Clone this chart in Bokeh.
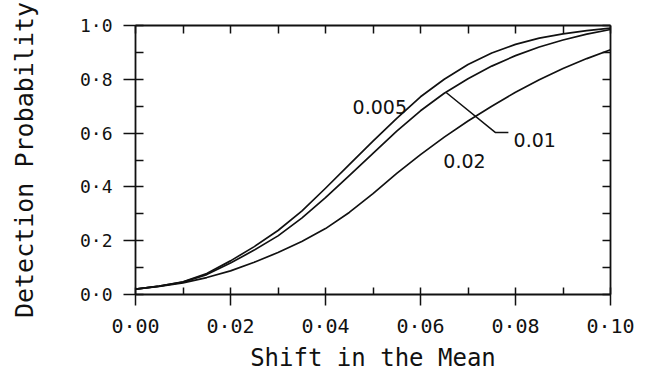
from bokeh.plotting import figure
from bokeh.models import LinearAxis, FixedTicker, Range1d, Label
from bokeh.embed import file_html
from bokeh.resources import INLINE

# ---- data ----
shift = [0.000, 0.005, 0.010, 0.015, 0.020, 0.025, 0.030, 0.035, 0.040, 0.045, 0.050,
         0.055, 0.060, 0.065, 0.070, 0.075, 0.080, 0.085, 0.090, 0.095, 0.100]
p_005 = [0.020, 0.031, 0.047, 0.078, 0.125, 0.178, 0.238, 0.310, 0.395, 0.483, 0.570,
         0.655, 0.735, 0.800, 0.855, 0.898, 0.930, 0.953, 0.969, 0.981, 0.990]
p_01 = [0.020, 0.031, 0.046, 0.074, 0.117, 0.165, 0.218, 0.284, 0.360, 0.442, 0.525,
        0.607, 0.683, 0.748, 0.802, 0.849, 0.888, 0.920, 0.946, 0.968, 0.985]
p_02 = [0.020, 0.030, 0.043, 0.063, 0.088, 0.120, 0.156, 0.197, 0.245, 0.305, 0.375,
        0.450, 0.520, 0.585, 0.645, 0.700, 0.752, 0.798, 0.840, 0.877, 0.910]
series_labels = ["0.005", "0.01", "0.02"]

x_ticks = [0.00, 0.02, 0.04, 0.06, 0.08, 0.10]
x_tick_labels = ["0·00", "0·02", "0·04", "0·06", "0·08", "0·10"]
x_minor_ticks = [0.01, 0.03, 0.05, 0.07, 0.09]
x_top_ticks = [0.00, 0.01, 0.02, 0.03, 0.04, 0.05, 0.06, 0.07, 0.08, 0.09, 0.10]
y_ticks = [0.0, 0.2, 0.4, 0.6, 0.8, 1.0]
y_tick_labels = ["0·0", "0·2", "0·4", "0·6", "0·8", "1·0"]
y_minor_ticks = [0.1, 0.3, 0.5, 0.7, 0.9]
y_right_ticks = [0.0, 0.1, 0.2, 0.3, 0.4, 0.5, 0.6, 0.7, 0.8, 0.9, 1.0]
x_title = "Shift in the Mean"
y_title = "Detection Probability"

# ---- layout / style (not data) ----
label_pos = {"0.005": (0.0457, 0.696), "0.01": (0.0796, 0.575), "0.02": (0.0648, 0.498)}
leader_x = [0.0654, 0.0758, 0.0785]
leader_y = [0.751, 0.602, 0.602]

MONO = "DejaVu Sans Mono"
INK = "#111111"

p = figure(width=647, height=374, x_range=Range1d(0, 0.10), y_range=Range1d(0, 1),
           output_backend="svg", toolbar_location=None,
           min_border_left=135, min_border_right=37, min_border_top=25, min_border_bottom=72)
p.grid.visible = False
p.outline_line_color = None
p.background_fill_color = "white"
p.border_fill_color = "white"


def style_axis(ax, tin, tout, mtin, mtout):
    ax.axis_line_color = INK
    ax.axis_line_width = 1.8
    ax.major_tick_line_color = INK
    ax.major_tick_line_width = 1.5
    ax.minor_tick_line_color = INK
    ax.minor_tick_line_width = 1.5
    ax.major_tick_in = tin
    ax.major_tick_out = tout
    ax.minor_tick_in = mtin
    ax.minor_tick_out = mtout


def hide_labels(ax):
    ax.major_label_text_font_size = "0px"
    ax.major_label_text_color = None
    ax.major_label_standoff = 0


# bottom axis
xa = p.xaxis[0]
xa.ticker = FixedTicker(ticks=x_ticks, minor_ticks=x_minor_ticks)
style_axis(xa, 7, 11, 7, 0)
xa.major_label_overrides = {t: l for t, l in zip(x_ticks, x_tick_labels)}
xa.major_label_text_font = MONO
xa.major_label_text_font_size = "20px"
xa.major_label_text_color = INK
xa.major_label_standoff = 8
xa.axis_label = x_title
xa.axis_label_text_font = MONO
xa.axis_label_text_font_size = "24px"
xa.axis_label_text_font_style = "normal"
xa.axis_label_text_color = INK
xa.axis_label_standoff = 3

# left axis
ya = p.yaxis[0]
ya.ticker = FixedTicker(ticks=y_ticks, minor_ticks=y_minor_ticks)
style_axis(ya, 8, 12, 8, 0)
ya.major_label_overrides = {t: l for t, l in zip(y_ticks, y_tick_labels)}
ya.major_label_text_font = MONO
ya.major_label_text_font_size = "18px"
ya.major_label_text_color = INK
ya.major_label_standoff = 11
ya.axis_label = y_title
ya.axis_label_text_font = MONO
ya.axis_label_text_font_size = "25px"
ya.axis_label_text_font_style = "normal"
ya.axis_label_text_color = INK
ya.axis_label_standoff = 38

# top axis
ta = LinearAxis(ticker=FixedTicker(ticks=x_top_ticks, minor_ticks=[]))
style_axis(ta, 8, 0, 0, 0)
hide_labels(ta)
p.add_layout(ta, "above")

# right axis
ra = LinearAxis(ticker=FixedTicker(ticks=y_right_ticks, minor_ticks=[]))
style_axis(ra, 8, 0, 0, 0)
hide_labels(ra)
p.add_layout(ra, "right")

# curves
for ys in (p_005, p_01, p_02):
    p.line(shift, ys, line_color=INK, line_width=1.7, line_join="round")

# leader line for 0.01
p.line(leader_x, leader_y, line_color=INK, line_width=1.5)

for name in series_labels:
    lx, ly = label_pos[name]
    p.add_layout(Label(x=lx, y=ly, text=name, text_font="DejaVu Sans",
                       text_font_size="19px", text_color=INK,
                       text_align="left", text_baseline="alphabetic"))

open("out.html", "w").write(file_html(p, INLINE))
